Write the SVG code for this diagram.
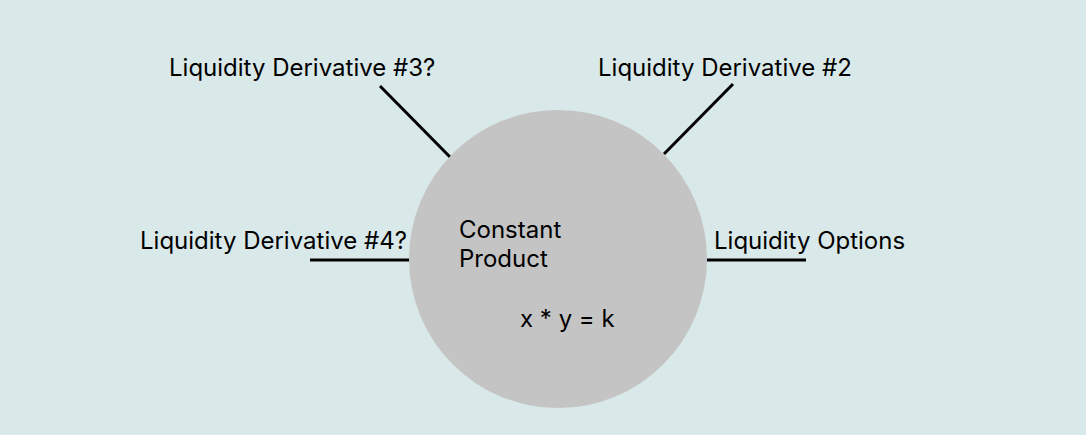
<svg xmlns="http://www.w3.org/2000/svg" width="1086" height="435" viewBox="0 0 1086 435">
<style>
text{font-family:Inter,"Noto Sans",sans-serif;font-size:24px;fill:#000}
.c{stroke:#000;stroke-width:3;fill:none}
</style>
<rect width="1086" height="435" fill="#d9e8e8"/>
<g id="connectors">
<line class="c" x1="380" y1="86" x2="450" y2="157"/>
<line class="c" x1="733" y1="84" x2="664" y2="154"/>
<line class="c" x1="310" y1="260" x2="409" y2="260"/>
<line class="c" x1="707" y1="260" x2="806" y2="260"/>
</g>
<g id="center">
<circle cx="558" cy="259" r="149" fill="#c4c4c4"/>
<text x="459" y="238">Constant</text>
<text x="459" y="267">Product</text>
<text x="520" y="327">x * y = k</text>
</g>
<g id="ld3"><text x="169" y="76">Liquidity Derivative #3?</text></g>
<g id="ld2"><text x="598" y="76">Liquidity Derivative #2</text></g>
<g id="ld4"><text x="140" y="249">Liquidity Derivative #4?</text></g>
<g id="lo"><text x="714" y="249">Liquidity Options</text></g>
</svg>
